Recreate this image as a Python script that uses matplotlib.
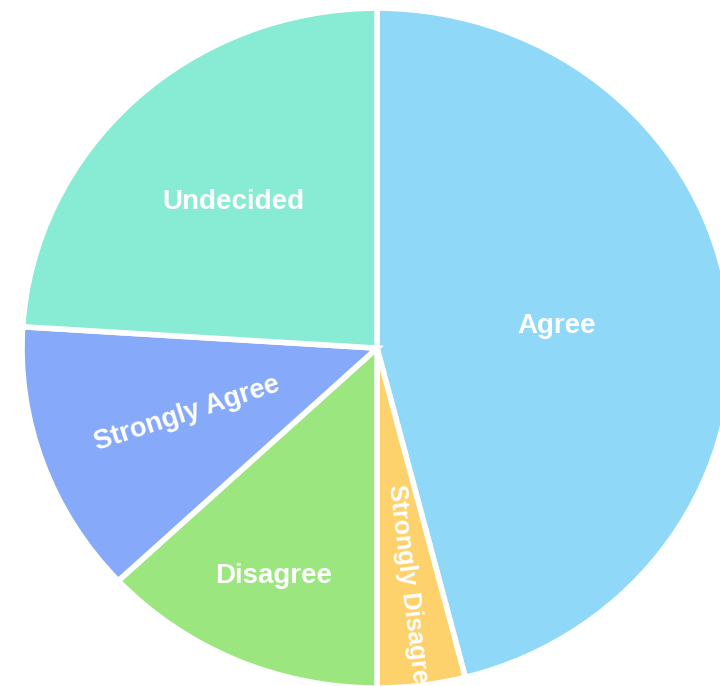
import matplotlib.pyplot as plt
import numpy as np

# Survey answers, clockwise from 12 o'clock
labels = ['Agree', 'Strongly Disagree', 'Disagree', 'Strongly Agree', 'Undecided']
values = [46, 4, 13, 13, 24]
colors = ['#8fd8f8', '#fdd26c', '#9be67f', '#86a9f9', '#88ebd4']

# label placement: distance from centre (fraction of radius), rotation, size
label_r = [0.51, 0.72, 0.73, 0.57, 0.59]
label_rot = [0, -83, 0, 18, 0]
label_size = [20, 18, 20, 19.5, 20]

fig = plt.figure(figsize=(7.2, 6.86), dpi=100)
ax = fig.add_axes([0, 0, 1, 1])

ax.pie(values, colors=colors, startangle=90, counterclock=False, radius=1.0,
       wedgeprops=dict(edgecolor='white', linewidth=4))
ax.set_aspect('auto')
ax.set_xlim(-1.062, 0.966)
ax.set_ylim(-0.994, 1.024)
ax.axis('off')

# put each label along the middle of its slice
total = sum(values)
start = 0.0
for lab, v, r, rot, fs in zip(labels, values, label_r, label_rot, label_size):
    mid = np.deg2rad((start + v / 2) / total * 360)
    start += v
    ax.text(r * np.sin(mid), r * np.cos(mid), lab, color='white',
            fontsize=fs, fontweight='bold', family='Liberation Sans',
            ha='center', va='center', rotation=rot, rotation_mode='anchor',
            clip_on=True)

fig.savefig('out.png', dpi=100, facecolor='white')
